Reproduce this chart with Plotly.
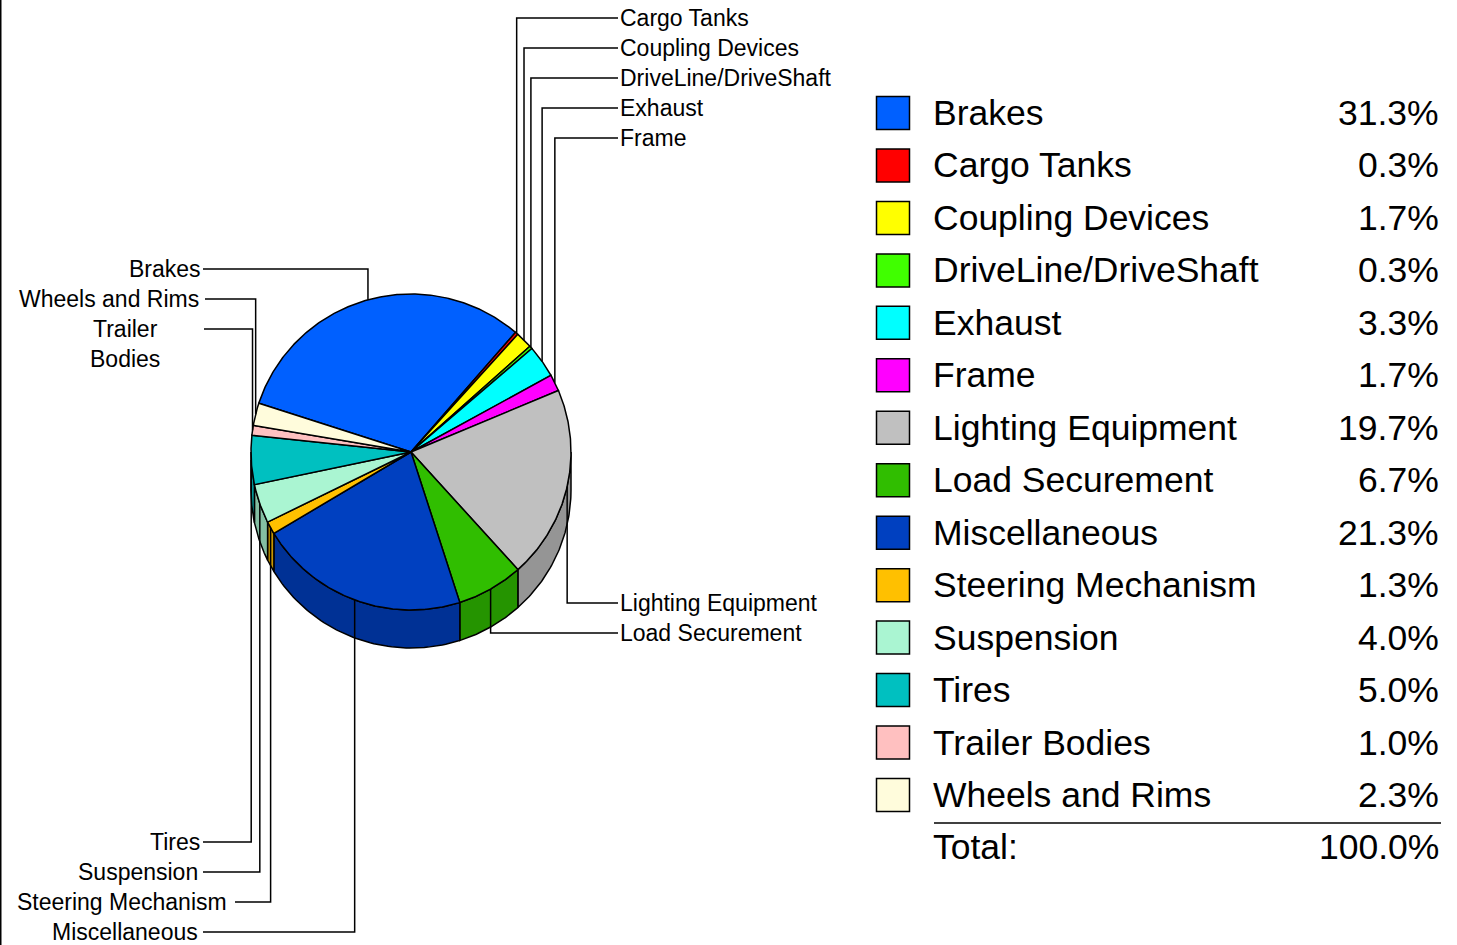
import numpy as np
import plotly.graph_objects as go

# ---------------- data ----------------
categories = ["Brakes", "Cargo Tanks", "Coupling Devices", "DriveLine/DriveShaft",
              "Exhaust", "Frame", "Lighting Equipment", "Load Securement",
              "Miscellaneous", "Steering Mechanism", "Suspension", "Tires",
              "Trailer Bodies", "Wheels and Rims"]
percent = [31.3, 0.3, 1.7, 0.3, 3.3, 1.7, 19.7, 6.7, 21.3, 1.3, 4.0, 5.0, 1.0, 2.3]
total_label = "100.0%"

# ---------------- styles ----------------
colors = ["#0060FF", "#FF0000", "#FFFF00", "#40FF00", "#00FFFF", "#FF00FF", "#C0C0C0",
          "#30BE00", "#0040C0", "#FFC000", "#AAF5D2", "#00C0C0", "#FFC0C0", "#FFFCDC"]

FONT = "Liberation Sans, Arial, sans-serif"
CX, CY, RX, RY, DEPTH = 411, 452, 160, 158, 38
START = 288  # degrees clockwise from 12 o'clock

# label layout: name -> (label y, line end x, text x, anchor)
label_layout = {
    "Cargo Tanks": (18, 618, 618, "left"),
    "Coupling Devices": (48, 618, 618, "left"),
    "DriveLine/DriveShaft": (78, 618, 618, "left"),
    "Exhaust": (108, 618, 618, "left"),
    "Frame": (138, 618, 618, "left"),
    "Lighting Equipment": (603, 618, 618, "left"),
    "Load Securement": (633, 618, 618, "left"),
    "Brakes": (269, 203, 203, "right"),
    "Wheels and Rims": (299, 205, 201, "right"),
    "Trailer Bodies": (329, 204, 125, "center"),
    "Tires": (842, 203, 202, "right"),
    "Suspension": (872, 203, 200, "right"),
    "Steering Mechanism": (902, 235, 229, "right"),
    "Miscellaneous": (932, 203, 200, "right"),
}


def darker(hexc, f=0.78):
    h = hexc.lstrip("#")
    r, g, b = int(h[0:2], 16), int(h[2:4], 16), int(h[4:6], 16)
    return "rgb(%d,%d,%d)" % (r * f, g * f, b * f)


def pt(theta, dy=0.0):
    t = np.radians(theta)
    return CX + RX * np.sin(t), CY - RY * np.cos(t) + dy


tot = sum(percent)
angles = []
acc = START
for v in percent:
    a0 = acc
    acc = acc + v / tot * 360.0
    angles.append((a0, acc))

fig = go.Figure()

# side faces
for (a0, a1), c in zip(angles, colors):
    for w0, w1 in [(90, 270), (450, 630)]:
        lo, hi = max(a0, w0), min(a1, w1)
        if hi > lo:
            th = np.linspace(lo, hi, 60)
            xt, yt = pt(th)
            xb, yb = pt(th[::-1], DEPTH)
            xs = list(xt) + list(xb) + [xt[0]]
            ys = list(yt) + list(yb) + [yt[0]]
            fig.add_trace(go.Scatter(x=xs, y=ys, mode="lines", fill="toself",
                                     fillcolor=darker(c), line=dict(color="black", width=1.5),
                                     hoverinfo="skip"))

# top faces
for (a0, a1), c, name in zip(angles, colors, categories):
    th = np.linspace(a0, a1, max(4, int((a1 - a0) * 2)))
    xa, ya = pt(th)
    xs = [CX] + list(xa) + [CX]
    ys = [CY] + list(ya) + [CY]
    fig.add_trace(go.Scatter(x=xs, y=ys, mode="lines", fill="toself", fillcolor=c,
                             line=dict(color="black", width=1.5), name=name,
                             hoverinfo="name"))

# leader lines + labels
lx, ly = [], []
annotations = []
for (a0, a1), name in zip(angles, categories):
    yl, xe, xt, anc = label_layout[name]
    px, py = pt((a0 + a1) / 2)
    lx += [px, px, xe, None]
    ly += [py, yl, yl, None]
    if name == "Trailer Bodies":
        annotations.append(dict(x=xt, y=yl + 15, text="Trailer<br>Bodies", showarrow=False,
                                xanchor="center", yanchor="middle", align="center",
                                font=dict(family=FONT, size=23, color="black")))
    else:
        annotations.append(dict(x=xt, y=yl, text=name, showarrow=False,
                                xanchor=anc, yanchor="middle",
                                font=dict(family=FONT, size=23, color="black")))
fig.add_trace(go.Scatter(x=lx, y=ly, mode="lines", line=dict(color="black", width=1.5),
                         hoverinfo="skip"))

# legend table
ROW0, PITCH = 113, 52.46
rows_y = [ROW0 + i * PITCH for i in range(len(categories))]
fig.add_trace(go.Scatter(x=[893] * len(categories), y=rows_y, mode="markers",
                         marker=dict(symbol="square", size=33, color=colors,
                                     line=dict(color="black", width=1.5)),
                         hoverinfo="skip"))
for name, v, y in zip(categories, percent, rows_y):
    annotations.append(dict(x=931, y=y, text=name, showarrow=False, xanchor="left",
                            yanchor="middle", font=dict(family=FONT, size=35.5, color="black")))
    annotations.append(dict(x=1441, y=y, text="%.1f%%" % v, showarrow=False, xanchor="right",
                            yanchor="middle", font=dict(family=FONT, size=35.5, color="black")))
ytot = ROW0 + len(categories) * PITCH
annotations.append(dict(x=931, y=ytot, text="Total:", showarrow=False, xanchor="left",
                        yanchor="middle", font=dict(family=FONT, size=35.5, color="black")))
annotations.append(dict(x=1441, y=ytot, text=total_label, showarrow=False, xanchor="right",
                        yanchor="middle", font=dict(family=FONT, size=35.5, color="black")))

shapes = [
    dict(type="line", x0=934, x1=1441, y0=823, y1=823, xref="x", yref="y",
         line=dict(color="black", width=1.5)),
    dict(type="line", x0=0, x1=0, y0=0, y1=1, xref="paper", yref="paper",
         line=dict(color="black", width=3)),
]

fig.update_layout(
    width=1457, height=945, margin=dict(l=0, r=0, t=0, b=0),
    paper_bgcolor="white", plot_bgcolor="white", showlegend=False,
    xaxis=dict(range=[0, 1457], visible=False, fixedrange=True),
    yaxis=dict(range=[945, 0], visible=False, fixedrange=True),
    annotations=annotations, shapes=shapes,
)

fig.write_html("out.html", config={"displayModeBar": False},
               post_script="document.body.style.margin='0';document.body.style.overflow='hidden';")
